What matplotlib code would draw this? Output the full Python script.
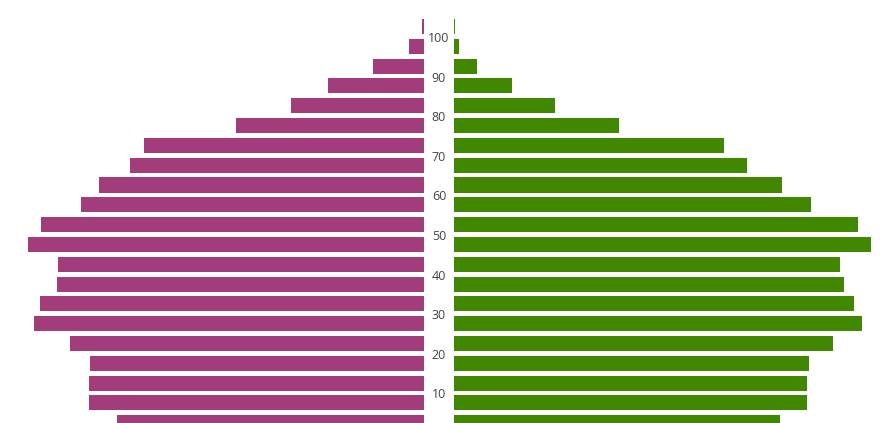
import matplotlib.pyplot as plt
import numpy as np

# age groups 0-4 ... 100+, population in thousands
age_start = [0, 5, 10, 15, 20, 25, 30, 35, 40, 45, 50,
             55, 60, 65, 70, 75, 80, 85, 90, 95, 100]
female = [2610, 2848, 2848, 2839, 3009, 3315, 3264, 3120, 3111, 3366, 3256,
          2916, 2763, 2499, 2380, 1598, 1131, 816, 434, 128, 17]
male = [2771, 3001, 3001, 3018, 3222, 3468, 3400, 3315, 3281, 3545, 3434,
        3035, 2788, 2491, 2295, 1403, 859, 493, 196, 43, 9]
tick_ages = [10, 20, 30, 40, 50, 60, 70, 80, 90, 100]

female_color = "#a33c7b"
male_color = "#418700"

W, H = 889, 423
per_px = 8.5  # thousands per pixel, same on both sides

fig = plt.figure(figsize=(W / 100, H / 100), dpi=100)
ax_l = fig.add_axes([0, 0, 424 / W, 1])
ax_r = fig.add_axes([454 / W, 0, 435 / W, 1])

centers = np.array(age_start) + 2.5
ax_l.barh(centers, female, height=3.8, color=female_color)
ax_r.barh(centers, male, height=3.8, color=male_color)

ax_l.set_xlim(424 * per_px, 0)
ax_r.set_xlim(0, 435 * per_px)

for ax in (ax_l, ax_r):
    ax.set_ylim(2.42, 109.2)
    ax.axis("off")

# age labels in the gap between the two halves
for a in tick_ages:
    y = (a - 2.42) / (109.2 - 2.42) - 2 / H
    fig.text(439 / W, y, str(a), ha="center", va="center",
             fontsize=9, color="#444444", family="Open Sans")

fig.savefig("out.png", dpi=100)
